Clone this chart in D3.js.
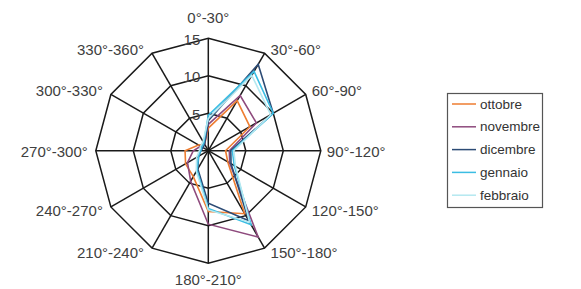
<!DOCTYPE html>
<html>
<head>
<meta charset="utf-8">
<script src="https://cdn.jsdelivr.net/npm/d3@7"></script>
<style>
  html, body { margin: 0; padding: 0; background: #fff; }
  svg { display: block; }
</style>
</head>
<body>
<div id="chart"></div>
<script>
// ─── Data ───
const sectors = ['0°-30°', '30°-60°', '60°-90°', '90°-120°', '120°-150°', '150°-180°',
  '180°-210°', '210°-240°', '240°-270°', '270°-300°', '300°-330°', '330°-360°'];
const months = ['ottobre', 'novembre', 'dicembre', 'gennaio', 'febbraio'];
const ottobre  = [3.0, 7.7, 6.4, 2.3, 3.0, 9.7, 8.1, 4.0, 3.5, 3.1, 1.5, 1.0];
const novembre = [3.5, 8.5, 7.4, 2.8, 3.3, 13.3, 9.8, 4.7, 3.2, 2.0, 1.2, 1.0];
const dicembre = [4.0, 13.3, 10.0, 3.0, 3.5, 10.8, 7.0, 2.8, 1.5, 1.0, 0.8, 1.0];
const gennaio  = [4.7, 12.2, 10.0, 3.2, 4.0, 11.4, 7.7, 3.0, 1.5, 1.0, 1.0, 1.2];
const febbraio = [4.3, 11.6, 9.6, 3.4, 4.2, 11.0, 7.9, 3.2, 1.8, 1.2, 1.2, 1.4];
const levels = [5, 10, 15];

const seriesValues = [ottobre, novembre, dicembre, gennaio, febbraio];
const colors = ['#EE7D31', '#8E4A7D', '#2C4B75', '#3BBDE3', '#B4E8F0'];

const W = 581, H = 289;
const cx = 208.3, cy = 150.7, R = 112.5;

const svg = d3.select('#chart').append('svg')
  .attr('width', W).attr('height', H)
  .attr('font-family', 'Arial, "Liberation Sans", sans-serif');

const g = svg.append('g').attr('transform', `translate(${cx},${cy})`);

const r = d3.scaleLinear().domain([0, 15]).range([0, R]);
const angleSlice = (Math.PI * 2) / sectors.length;
const pt = (v, i) => [r(v) * Math.sin(i * angleSlice), -r(v) * Math.cos(i * angleSlice)];

// ─── Grid rings ───
const ring = d3.lineRadial()
  .radius(d => r(d))
  .angle((d, i) => i * angleSlice)
  .curve(d3.curveLinearClosed);

levels.forEach(l => {
  g.append('path')
    .attr('d', ring(sectors.map(() => l)))
    .attr('fill', 'none')
    .attr('stroke', '#1a1a1a')
    .attr('stroke-width', 1.5);
});

// ─── Spokes ───
sectors.forEach((s, i) => {
  const [x2, y2] = pt(15, i);
  g.append('line')
    .attr('x1', 0).attr('y1', 0)
    .attr('x2', x2).attr('y2', y2)
    .attr('stroke', '#1a1a1a')
    .attr('stroke-width', 1.5);
});

// ─── Series ───
const radarLine = d3.lineRadial()
  .radius(d => r(d))
  .angle((d, i) => i * angleSlice)
  .curve(d3.curveLinearClosed);

seriesValues.forEach((vals, k) => {
  g.append('path')
    .attr('d', radarLine(vals))
    .attr('fill', 'none')
    .attr('stroke', colors[k])
    .attr('stroke-width', 1.6);
});

// ─── Level labels ───
levels.forEach(l => {
  const [, y] = pt(l, 0);
  g.append('text')
    .attr('x', -8)
    .attr('y', y + 1)
    .attr('text-anchor', 'end')
    .attr('dominant-baseline', 'central')
    .attr('fill', '#404040')
    .attr('font-size', '15px')
    .text(l);
});

// ─── Sector labels ───
sectors.forEach((s, i) => {
  const [vx, vy] = pt(15, i);
  const sn = Math.sin(i * angleSlice), cs = Math.cos(i * angleSlice);
  let x = vx, y = vy, anchor = 'middle';
  if (Math.abs(sn) < 0.01) {
    y = vy + (cs > 0 ? -21 : 16);
  } else {
    anchor = sn > 0 ? 'start' : 'end';
    x = vx + (sn > 0 ? 6 : -8);
    y = vy + (Math.abs(cs) < 0.01 ? 1 : (cs > 0 ? -4 : 4));
  }
  g.append('text')
    .attr('x', x).attr('y', y)
    .attr('text-anchor', anchor)
    .attr('dominant-baseline', 'central')
    .attr('fill', '#404040')
    .attr('font-size', '15px')
    .text(s);
});

// ─── Legend ───
const lg = svg.append('g').attr('transform', 'translate(447,93)');
lg.append('rect')
  .attr('x', 0.5).attr('y', 0.5)
  .attr('width', 95).attr('height', 114)
  .attr('fill', '#fff')
  .attr('stroke', '#555')
  .attr('stroke-width', 1.2);

months.forEach((m, k) => {
  const y = 11 + k * 22.8;
  lg.append('line')
    .attr('x1', 5).attr('x2', 29)
    .attr('y1', y).attr('y2', y)
    .attr('stroke', colors[k])
    .attr('stroke-width', 1.5);
  lg.append('text')
    .attr('x', 33).attr('y', y)
    .attr('dominant-baseline', 'central')
    .attr('fill', '#333')
    .attr('font-size', '13.5px')
    .text(m);
});
</script>
</body>
</html>
